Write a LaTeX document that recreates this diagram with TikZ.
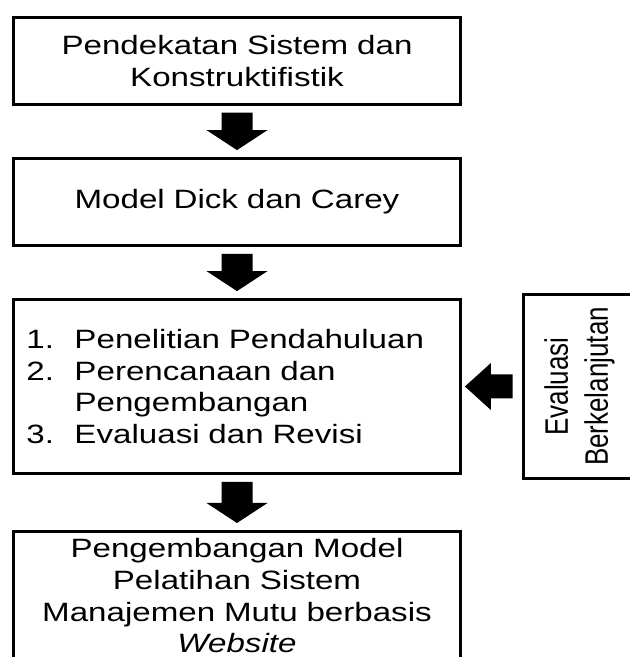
\documentclass[tikz,border=0pt]{standalone}
\usepackage{fontspec}
\setmainfont{Liberation Sans}[FakeStretch=1.25]
\newfontfamily\tegakfont{Liberation Sans}
\usetikzlibrary{calc}
\newcommand{\canvaswidth}{630}
\newcommand{\canvasheight}{657}
\newcommand{\nomor}[1]{\makebox[48pt][l]{#1}}
\tikzstyle{kotak}=[draw, rectangle, line width=2.8pt, minimum width=447pt, text width=421pt, inner xsep=13pt, align=center, font=\fontsize{26.5}{31.7}\selectfont]
\tikzstyle{panah}=[fill=black, draw=none]

\begin{document}
\begin{tikzpicture}[x=1pt, y=1pt]
        \useasboundingbox (0,0) rectangle (\canvaswidth,\canvasheight);
        \clip (0,0) rectangle (\canvaswidth,\canvasheight);

        % kotak utama dari atas ke bawah
        \node[kotak, minimum height=87pt] (pendekatan) at (237,596.3) {Pendekatan Sistem dan\\Konstruktifistik};
        \node[kotak, minimum height=87pt] (model) at (237,455) {Model Dick dan Carey};
        \node[kotak, minimum height=174pt, align=left] (tahap) at (237,270.5) {\nomor{1.}Penelitian Pendahuluan\\\nomor{2.}Perencanaan dan\\\nomor{}Pengembangan\\\nomor{3.}Evaluasi dan Revisi};
        % kotak terakhir terpotong di bawah
        \node[kotak, anchor=north, inner ysep=7pt] (hasil) at (237,127) {Pengembangan Model\\Pelatihan Sistem\\Manajemen Mutu berbasis\\\textit{Website}\rule[-30pt]{0pt}{30pt}};

        % kotak samping, teks tegak
        \node[draw, line width=2.8pt, rotate=90, yscale=1.25, minimum width=184.2pt, minimum height=89.8pt, align=center, font=\tegakfont\fontsize{26}{32}\selectfont] (evaluasi) at (579.5,270.5) {Evaluasi\\Berkelanjutan};

        % panah ke bawah
        \foreach \atas/\bawah in {pendekatan/model, model/tahap, tahap/hasil} {
            \fill[panah] ($(\atas.south)+(-15.5,-7)$) -- ($(\bawah.north)+(-15.5,27)$) -- ($(\bawah.north)+(-30.5,27)$)
                -- ($(\bawah.north)+(0,7)$) -- ($(\bawah.north)+(30.5,27)$) -- ($(\bawah.north)+(15.5,27)$)
                -- ($(\atas.south)+(15.5,-7)$) -- cycle;
        }

        % panah ke kiri (evaluasi.north = sisi kiri karena rotate)
        \fill[panah] ($(evaluasi.north)+(-9,12)$) -- ($(tahap.east)+(29,12)$) -- ($(tahap.east)+(29,23.5)$)
            -- ($(tahap.east)+(3,0)$) -- ($(tahap.east)+(29,-23.5)$) -- ($(tahap.east)+(29,-12)$)
            -- ($(evaluasi.north)+(-9,-12)$) -- cycle;
\end{tikzpicture}
\end{document}
